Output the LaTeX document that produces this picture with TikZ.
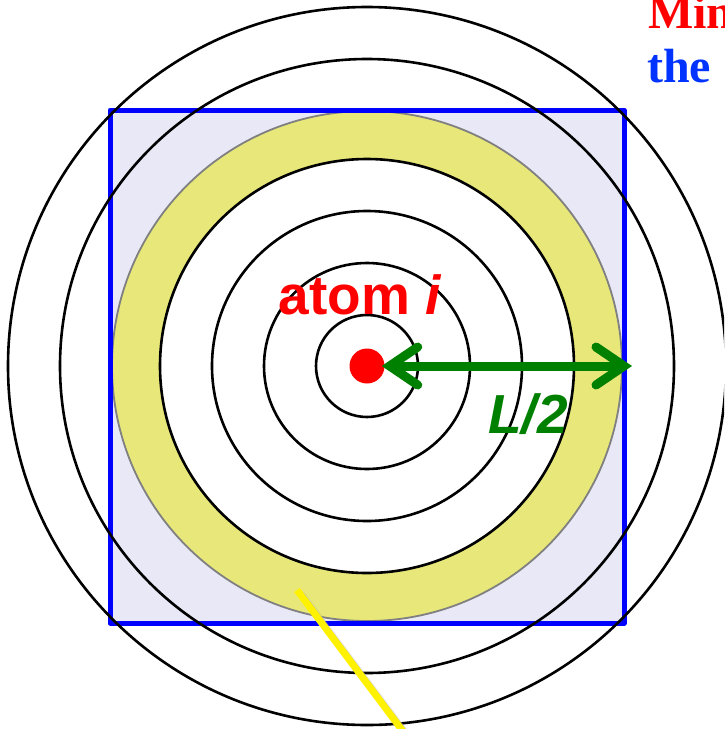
\documentclass[tikz,border=0pt]{standalone}
\usepackage{fontspec}
\setmainfont{Liberation Serif}
\setsansfont{Liberation Sans}
\usetikzlibrary{arrows.meta}
\definecolor{boxfill}{RGB}{232,232,246}
\definecolor{shellyellow}{RGB}{232,232,122}
\definecolor{arrowgreen}{RGB}{0,128,0}
\definecolor{textblue}{RGB}{0,51,255}
\begin{document}
\begin{tikzpicture}[
  x=1pt, y=-1pt,
  ring/.style={draw=black, line width=2.6pt},
  halfbox/.style={draw=blue, line width=5pt, line join=round},
  span/.style={draw=arrowgreen, line width=9pt, line cap=round,
    {Straight Barb[length=28pt,width=38pt,line cap=round]}-{Straight Barb[length=28pt,width=38pt,line cap=round]}},
  biglabel/.style={inner sep=0pt, font=\sffamily\bfseries\fontsize{55}{58}\selectfont},
  toplabel/.style={inner sep=0pt, anchor=base west, font=\rmfamily\bfseries\fontsize{48}{52}\selectfont}
]
\clip (0,0) rectangle (724,729);
% simulation box and shell
\fill[boxfill] (110,110) rectangle (624,623);
\fill[shellyellow, even odd rule] (367,366) circle (255) (367,366) circle (207);
\draw[gray, line width=1.8pt] (367,366) circle (255);
\fill[white] (367,366) circle (207);
\draw[halfbox] (110,110) rectangle (624,623);
\foreach \r in {51,103,155,207,307,359}
  \draw[ring] (367,366) circle (\r);
% atom and cutoff arrow
\node (atom) [circle, fill=red, inner sep=0pt, minimum size=35pt] at (367,366) {};
\coordinate (boxedge) at (632,366);
\draw[span, shorten <=-3pt] (atom) -- (boxedge);
\node (atomlabel) [biglabel, text=red, anchor=base] at (360,314) {atom \textit{i}};
\node (halflabel) [biglabel, text=arrowgreen, anchor=base west] at (488,433) {\textit{L/2}};
% pointer line
\draw[black!30, opacity=0.5, line width=7pt] (301,594) -- (409,738);
\draw[yellow, line width=7pt] (297,590) -- (405,734);
% title, cut at the edge
\node (titleA) [toplabel, text=red] at (648,28) {Min};
\node (titleB) [toplabel, text=textblue] at (647,82) {the};
\end{tikzpicture}
\end{document}
